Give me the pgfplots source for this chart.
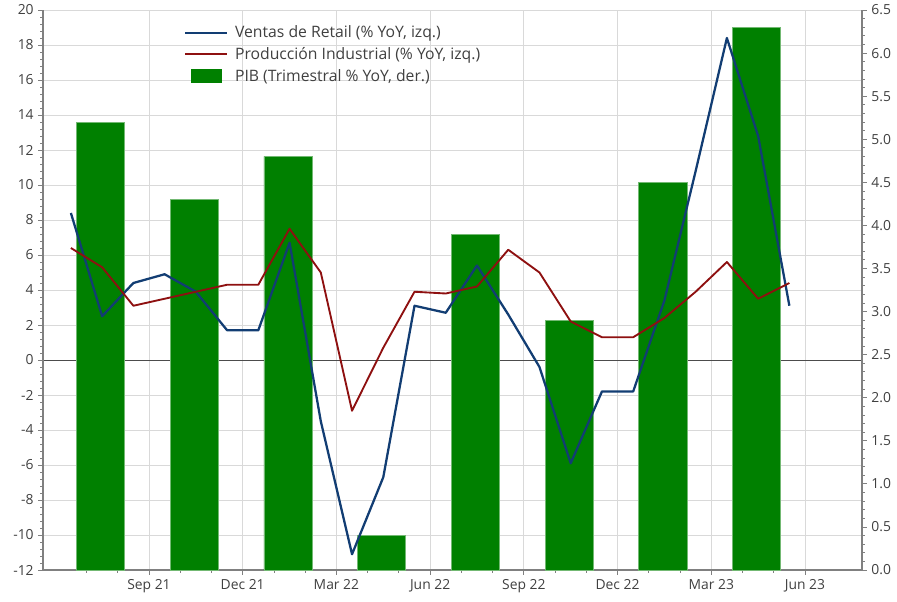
\documentclass[border=0pt]{standalone}
\usepackage{fontspec}
\setmainfont{Open Sans}
\usepackage{pgfplots}
\pgfplotsset{compat=1.18}

\definecolor{retail}{HTML}{123D73}
\definecolor{indus}{HTML}{8E1010}
\definecolor{pib}{HTML}{008000}
\definecolor{gridc}{HTML}{D9D9D9}
\definecolor{axc}{HTML}{808080}
\definecolor{labc}{HTML}{404040}

% month index: 9 = Sep 21, 12 = Dec 21, ... ; monthly points sit mid-month
\pgfplotsset{
  common/.style={
    set layers=standard,
    scale only axis, width=614.25pt, height=420pt,
    at={(0,0)}, anchor=south west,
    xmin=5.607, xmax=31.825,
    tick align=outside,
    major tick length=3.5pt, minor tick length=2.2pt,
    every tick/.style={draw=axc, line width=0.6pt},
    axis line style={draw=axc, line width=0.8pt},
    tick label style={font=\fontsize{10.4}{12}\selectfont, text=labc},
    /pgf/number format/assume math mode=true,
  },
  lineleg/.style={legend image code/.code={\draw[##1] (0pt,0pt) -- (31pt,0pt);}},
  boxleg/.style={legend image code/.code={\fill[pib] (4.5pt,-4.9pt) rectangle (27pt,4.9pt);}},
}

\begin{document}
\begin{tikzpicture}
% right axis: quarterly GDP bars
\begin{axis}[common,
    hide x axis,
    axis y line*=right,
    ymin=0, ymax=6.5,
    ytick={0,0.5,...,6.5},
    minor y tick num=4,
    yticklabel style={/pgf/number format/.cd, fixed, fixed zerofill, precision=1},
    ybar, bar width=1.54,
]
\addplot[fill=pib, draw=pib!55!white, line width=0.5pt] coordinates {
    (7.45,5.2) (10.45,4.3) (13.45,4.8) (16.45,0.4)
    (19.45,3.9) (22.45,2.9) (25.45,4.5) (28.45,6.3)
};
\end{axis}

% left axis: monthly retail sales and industrial production
\begin{axis}[common,
    axis x line*=bottom,
    axis y line*=left,
    ymin=-12, ymax=20,
    ytick={-12,-10,...,20},
    minor y tick num=4,
    xtick={9,12,...,30},
    xticklabels={Sep 21,Dec 21,Mar 22,Jun 22,Sep 22,Dec 22,Mar 23,Jun 23},
    minor xtick={7,8,10,11,13,14,16,17,19,20,22,23,25,26,28,29},
    xmajorgrids, ymajorgrids,
    major grid style={draw=gridc, line width=0.6pt},
    extra y ticks={0},
    extra y tick labels={},
    extra y tick style={major grid style={draw=black!70, line width=0.7pt}},
    legend style={draw=none, fill=none, at={(0.167,0.982)}, anchor=north west,
        font=\fontsize{11.8}{13}\selectfont, text=labc, row sep=1.8pt,
        /tikz/column sep=3.6pt},
    legend cell align=left,
]
\addplot[retail, line width=1.7pt, line join=round, lineleg] coordinates {
    (6.5,8.4) (7.5,2.5) (8.5,4.4) (9.5,4.9) (10.5,3.9) (11.5,1.7)
    (12.5,1.7) (13.5,6.7) (14.5,-3.5) (15.5,-11.1) (16.5,-6.7) (17.5,3.1)
    (18.5,2.7) (19.5,5.4) (20.5,2.6) (21.5,-0.4) (22.5,-5.9) (23.5,-1.8)
    (24.5,-1.8) (25.5,3.4) (26.5,10.8) (27.5,18.4) (28.5,12.8) (29.5,3.1)
};
\addlegendentry{Ventas de Retail (\% YoY, izq.)}
\addplot[indus, line width=1.4pt, line join=round, lineleg] coordinates {
    (6.5,6.4) (7.5,5.3) (8.5,3.1) (9.5,3.5) (10.5,3.9) (11.5,4.3)
    (12.5,4.3) (13.5,7.5) (14.5,5.0) (15.5,-2.9) (16.5,0.7) (17.5,3.9)
    (18.5,3.8) (19.5,4.2) (20.5,6.3) (21.5,5.0) (22.5,2.2) (23.5,1.3)
    (24.5,1.3) (25.5,2.4) (26.5,3.9) (27.5,5.6) (28.5,3.5) (29.5,4.4)
};
\addlegendentry{Producción Industrial (\% YoY, izq.)}
\addlegendimage{boxleg}
\addlegendentry{PIB (Trimestral \% YoY, der.)}
\end{axis}
\pgfresetboundingbox
\path[use as bounding box] (-32.25pt,-23.25pt) rectangle (640.5pt,427.5pt);
\end{tikzpicture}
\end{document}
